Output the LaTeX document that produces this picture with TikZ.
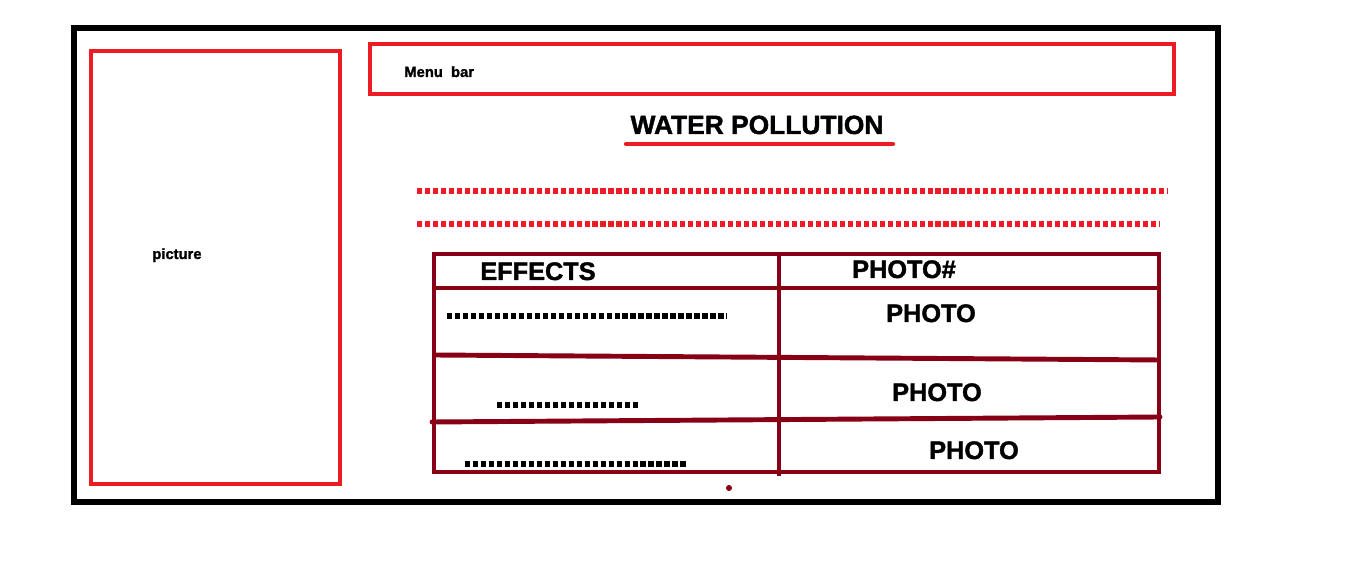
\documentclass[tikz,border=0pt]{standalone}
\usepackage{fontspec}
\setmainfont{Liberation Sans}
\newfontfamily\heavyfont{Liberation Sans}[FakeBold=1.6]
\usetikzlibrary{positioning}
\definecolor{paintred}{HTML}{ED1C24}
\definecolor{tablered}{HTML}{880015}

\begin{document}
\begin{tikzpicture}[
    x=0.02cm,y=-0.02cm,
    frame/.style={draw=black,line width=2.9pt},
    panel/.style={draw=paintred,line width=2.8pt},
    rule/.style={draw=tablered,line width=2.8pt},
    heading/.style={font=\heavyfont\bfseries\fontsize{14.4}{16}\selectfont,anchor=base,inner sep=0pt},
    caption/.style={font=\heavyfont\bfseries\fontsize{8.4}{10}\selectfont,anchor=base west,inner sep=0pt},
    reddots/.style={draw=paintred,line width=2.9pt,dash pattern=on 2.9pt off 1.64pt},
    blackdots/.style={draw=black,line width=2.9pt,dash pattern=on 3.1pt off 1.44pt}]
\useasboundingbox (0,0) rectangle (1360,573);
% page frame and side picture
\draw[frame] (74,28) rectangle (1218,502);
\draw[panel] (91,51) rectangle (340,484);
\node[caption] (pic) at (152,259) {picture};
% menu bar
\draw[panel] (370,44) rectangle (1174,94);
\node[caption] (menu) at (404,77) {Menu~~bar};
% title
\node[heading,font=\heavyfont\bfseries\fontsize{15}{17}\selectfont] (title) at (757,134) {WATER POLLUTION};
\draw[paintred,line width=2.4pt,line cap=round] (626,144) -- (893,144);
\draw[reddots] (417,191) -- (1168,191);
\draw[reddots] (417,224) -- (1160,224);
% table
\coordinate (tl) at (434,254);
\coordinate (br) at (1159,472);
\draw[rule] (tl) rectangle (br);
\draw[rule] (779,254) -- (779,476);
\draw[rule] (434,288) -- (1159,288);
\draw[rule] (434,355) -- (1160,360);
\draw[rule,line cap=round] (432,422) -- (1160,417);
\fill[tablered] (729,488) circle (1.7pt);
\node[heading] (effects) at (538,280) {EFFECTS};
\node[heading] (photohash) at (904,278) {PHOTO\#};
\node[heading] (photoa) at (931,322) {PHOTO};
\node[heading] (photob) at (937,401) {PHOTO};
\node[heading] (photoc) at (974,459) {PHOTO};
\draw[blackdots] (447,316) -- (727,316);
\draw[blackdots] (497,405) -- (640,405);
\draw[blackdots] (465,464) -- (688,464);
\end{tikzpicture}
\end{document}
